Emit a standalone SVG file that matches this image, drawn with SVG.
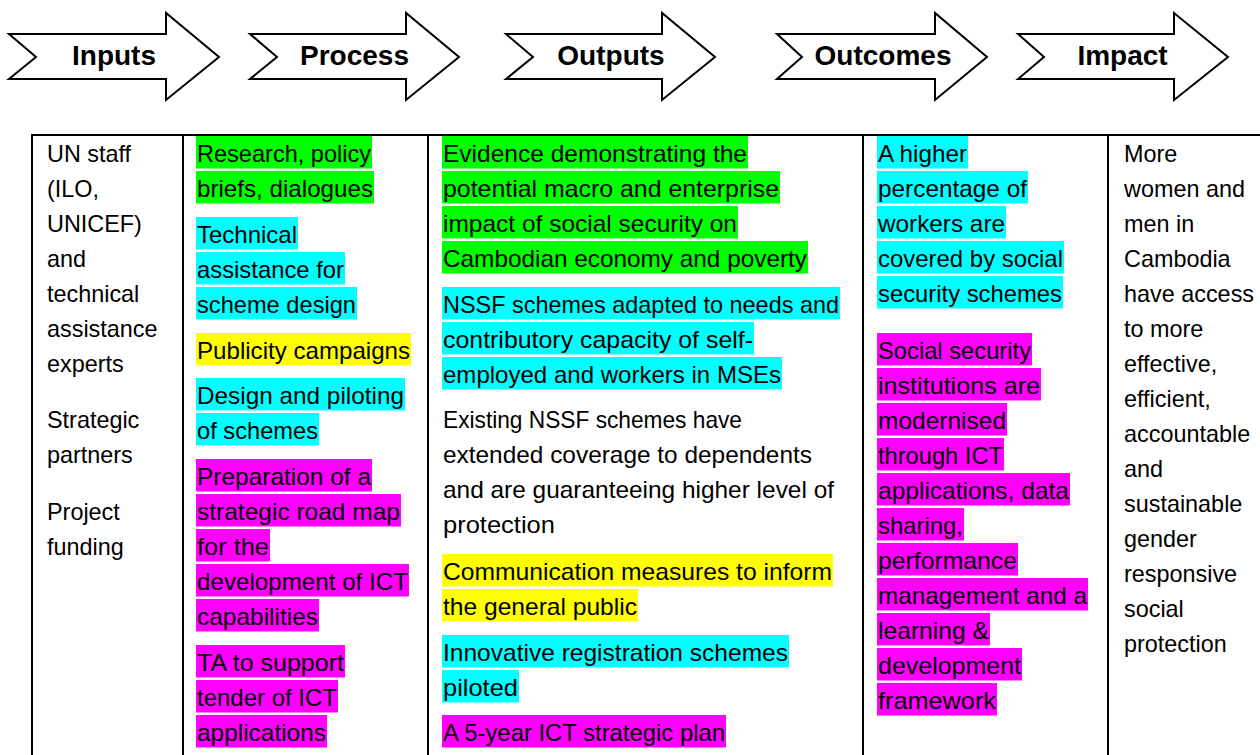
<svg xmlns="http://www.w3.org/2000/svg" width="1260" height="755" viewBox="0 0 1260 755">
  <style>
    .arrow { fill: #ffffff; stroke: #000000; stroke-width: 2; stroke-linejoin: miter; }
    .head { font-family: "Liberation Sans", Arial, sans-serif; font-weight: bold; font-size: 28px; fill: #000000; text-anchor: middle; }
    .cell { font-family: "Liberation Sans", Arial, sans-serif; font-size: 23.4px; fill: #000000; }
    .rule { stroke: #000000; stroke-width: 2; fill: none; }
    .g { fill: #00ff00; }
    .c { fill: #00ffff; }
    .y { fill: #ffff00; }
    .m { fill: #ff00ff; }
  </style>
  <rect width="1260" height="755" fill="#ffffff"/>

  <!-- stage arrows -->
  <g id="stage-inputs">
    <path class="arrow" d="M9,34 L166,34 L166,13 L219,57 L166,100 L166,79 L9,79 L36,57 Z"/>
    <text class="head" x="114" y="65">Inputs</text>
  </g>
  <g id="stage-process">
    <path class="arrow" d="M250,34 L406,34 L406,13 L459,57 L406,100 L406,79 L250,79 L277,57 Z"/>
    <text class="head" x="354.5" y="65">Process</text>
  </g>
  <g id="stage-outputs">
    <path class="arrow" d="M506,34 L662,34 L662,13 L715,57 L662,100 L662,79 L506,79 L533,57 Z"/>
    <text class="head" x="611" y="65">Outputs</text>
  </g>
  <g id="stage-outcomes">
    <path class="arrow" d="M777,34 L935,34 L935,13 L987,57 L935,100 L935,79 L777,79 L802,57 Z"/>
    <text class="head" x="883" y="65">Outcomes</text>
  </g>
  <g id="stage-impact">
    <path class="arrow" d="M1018,34 L1174,34 L1174,13 L1228,57 L1174,100 L1174,79 L1018,79 L1044,57 Z"/>
    <text class="head" x="1122.5" y="65">Impact</text>
  </g>

  <!-- table rules -->
  <g id="connectors">
    <line class="rule" x1="31" y1="135" x2="1260" y2="135"/>
    <line class="rule" x1="32" y1="134" x2="32" y2="755"/>
    <line class="rule" x1="183" y1="134" x2="183" y2="755"/>
    <line class="rule" x1="428" y1="134" x2="428" y2="755"/>
    <line class="rule" x1="863" y1="134" x2="863" y2="755"/>
    <line class="rule" x1="1108" y1="134" x2="1108" y2="755"/>
  </g>

  <!-- Inputs column -->
  <g id="col-inputs" class="cell">
    <text x="47" y="162">UN staff</text>
    <text x="47" y="197">(ILO,</text>
    <text x="47" y="232">UNICEF)</text>
    <text x="47" y="267">and</text>
    <text x="47" y="302">technical</text>
    <text x="47" y="337">assistance</text>
    <text x="47" y="372">experts</text>
    <text x="47" y="428">Strategic</text>
    <text x="47" y="463">partners</text>
    <text x="47" y="520">Project</text>
    <text x="47" y="555">funding</text>
  </g>

  <!-- Process column -->
  <g id="col-process">
    <rect class="g" x="196" y="136" width="176" height="32.5"/>
    <rect class="g" x="196" y="171" width="178" height="32.5"/>
    <rect class="c" x="196" y="217" width="102" height="32.5"/>
    <rect class="c" x="196" y="252" width="149" height="32.5"/>
    <rect class="c" x="196" y="287" width="161" height="32.5"/>
    <rect class="y" x="196" y="333" width="215" height="32.5"/>
    <rect class="c" x="196" y="378" width="209" height="32.5"/>
    <rect class="c" x="196" y="413" width="123" height="32.5"/>
    <rect class="m" x="196" y="459" width="176" height="32.5"/>
    <rect class="m" x="196" y="494" width="205" height="32.5"/>
    <rect class="m" x="196" y="529" width="74" height="32.5"/>
    <rect class="m" x="196" y="564" width="213" height="32.5"/>
    <rect class="m" x="196" y="599" width="123" height="32.5"/>
    <rect class="m" x="196" y="645" width="149" height="32.5"/>
    <rect class="m" x="196" y="680" width="142" height="32.5"/>
    <rect class="m" x="196" y="715" width="131" height="32.5"/>
    <g class="cell">
      <text x="197" y="162" textLength="174" lengthAdjust="spacingAndGlyphs">Research, policy</text>
      <text x="197" y="197" textLength="176" lengthAdjust="spacingAndGlyphs">briefs, dialogues</text>
      <text x="197" y="243" textLength="100" lengthAdjust="spacingAndGlyphs">Technical</text>
      <text x="197" y="278" textLength="147" lengthAdjust="spacingAndGlyphs">assistance for</text>
      <text x="197" y="313" textLength="159" lengthAdjust="spacingAndGlyphs">scheme design</text>
      <text x="197" y="359" textLength="213" lengthAdjust="spacingAndGlyphs">Publicity campaigns</text>
      <text x="197" y="404" textLength="207" lengthAdjust="spacingAndGlyphs">Design and piloting</text>
      <text x="197" y="439" textLength="121" lengthAdjust="spacingAndGlyphs">of schemes</text>
      <text x="197" y="485" textLength="174" lengthAdjust="spacingAndGlyphs">Preparation of a</text>
      <text x="197" y="520" textLength="203" lengthAdjust="spacingAndGlyphs">strategic road map</text>
      <text x="197" y="555" textLength="72" lengthAdjust="spacingAndGlyphs">for the</text>
      <text x="197" y="590" textLength="211" lengthAdjust="spacingAndGlyphs">development of ICT</text>
      <text x="197" y="625" textLength="121" lengthAdjust="spacingAndGlyphs">capabilities</text>
      <text x="197" y="671" textLength="147" lengthAdjust="spacingAndGlyphs">TA to support</text>
      <text x="197" y="706" textLength="140" lengthAdjust="spacingAndGlyphs">tender of ICT</text>
      <text x="197" y="741" textLength="129" lengthAdjust="spacingAndGlyphs">applications</text>
    </g>
  </g>

  <!-- Outputs column -->
  <g id="col-outputs">
    <rect class="g" x="442" y="136" width="306" height="32.5"/>
    <rect class="g" x="442" y="171" width="338" height="32.5"/>
    <rect class="g" x="442" y="206" width="296" height="32.5"/>
    <rect class="g" x="442" y="241" width="366" height="32.5"/>
    <rect class="c" x="442" y="287" width="398" height="32.5"/>
    <rect class="c" x="442" y="322" width="312" height="32.5"/>
    <rect class="c" x="442" y="357" width="340" height="32.5"/>
    <rect class="y" x="442" y="554" width="391" height="32.5"/>
    <rect class="y" x="442" y="589" width="196" height="32.5"/>
    <rect class="c" x="442" y="635" width="347" height="32.5"/>
    <rect class="c" x="442" y="670" width="77" height="32.5"/>
    <rect class="m" x="442" y="715" width="284" height="32.5"/>
    <g class="cell">
      <text x="443" y="162" textLength="304" lengthAdjust="spacingAndGlyphs">Evidence demonstrating the</text>
      <text x="443" y="197" textLength="336" lengthAdjust="spacingAndGlyphs">potential macro and enterprise</text>
      <text x="443" y="232" textLength="294" lengthAdjust="spacingAndGlyphs">impact of social security on</text>
      <text x="443" y="267" textLength="364" lengthAdjust="spacingAndGlyphs">Cambodian economy and poverty</text>
      <text x="443" y="313" textLength="396" lengthAdjust="spacingAndGlyphs">NSSF schemes adapted to needs and</text>
      <text x="443" y="348" textLength="310" lengthAdjust="spacingAndGlyphs">contributory capacity of self-</text>
      <text x="443" y="383" textLength="338" lengthAdjust="spacingAndGlyphs">employed and workers in MSEs</text>
      <text x="443" y="428" textLength="299" lengthAdjust="spacingAndGlyphs">Existing NSSF schemes have</text>
      <text x="443" y="463" textLength="369" lengthAdjust="spacingAndGlyphs">extended coverage to dependents</text>
      <text x="443" y="498" textLength="391" lengthAdjust="spacingAndGlyphs">and are guaranteeing higher level of</text>
      <text x="443" y="533" textLength="112" lengthAdjust="spacingAndGlyphs">protection</text>
      <text x="443" y="580" textLength="389" lengthAdjust="spacingAndGlyphs">Communication measures to inform</text>
      <text x="443" y="615" textLength="194" lengthAdjust="spacingAndGlyphs">the general public</text>
      <text x="443" y="661" textLength="345" lengthAdjust="spacingAndGlyphs">Innovative registration schemes</text>
      <text x="443" y="696" textLength="75" lengthAdjust="spacingAndGlyphs">piloted</text>
      <text x="443" y="741" textLength="282" lengthAdjust="spacingAndGlyphs">A 5-year ICT strategic plan</text>
    </g>
  </g>

  <!-- Outcomes column -->
  <g id="col-outcomes">
    <rect class="c" x="877" y="136" width="91" height="32.5"/>
    <rect class="c" x="877" y="171" width="151" height="32.5"/>
    <rect class="c" x="877" y="206" width="129" height="32.5"/>
    <rect class="c" x="877" y="241" width="187" height="32.5"/>
    <rect class="c" x="877" y="276" width="186" height="32.5"/>
    <rect class="m" x="877" y="333" width="155" height="32.5"/>
    <rect class="m" x="877" y="368" width="164" height="32.5"/>
    <rect class="m" x="877" y="403" width="130" height="32.5"/>
    <rect class="m" x="877" y="438" width="127" height="32.5"/>
    <rect class="m" x="877" y="473" width="193" height="32.5"/>
    <rect class="m" x="877" y="508" width="87" height="32.5"/>
    <rect class="m" x="877" y="543" width="141" height="32.5"/>
    <rect class="m" x="877" y="578" width="211" height="32.5"/>
    <rect class="m" x="877" y="613" width="113" height="32.5"/>
    <rect class="m" x="877" y="648" width="145" height="32.5"/>
    <rect class="m" x="877" y="683" width="120" height="32.5"/>
    <g class="cell">
      <text x="878" y="162" textLength="89" lengthAdjust="spacingAndGlyphs">A higher</text>
      <text x="878" y="197" textLength="149" lengthAdjust="spacingAndGlyphs">percentage of</text>
      <text x="878" y="232" textLength="127" lengthAdjust="spacingAndGlyphs">workers are</text>
      <text x="878" y="267" textLength="185" lengthAdjust="spacingAndGlyphs">covered by social</text>
      <text x="878" y="302" textLength="184" lengthAdjust="spacingAndGlyphs">security schemes</text>
      <text x="878" y="359" textLength="153" lengthAdjust="spacingAndGlyphs">Social security</text>
      <text x="878" y="394" textLength="162" lengthAdjust="spacingAndGlyphs">institutions are</text>
      <text x="878" y="429" textLength="128" lengthAdjust="spacingAndGlyphs">modernised</text>
      <text x="878" y="464" textLength="125" lengthAdjust="spacingAndGlyphs">through ICT</text>
      <text x="878" y="499" textLength="191" lengthAdjust="spacingAndGlyphs">applications, data</text>
      <text x="878" y="534" textLength="85" lengthAdjust="spacingAndGlyphs">sharing,</text>
      <text x="878" y="569" textLength="139" lengthAdjust="spacingAndGlyphs">performance</text>
      <text x="878" y="604" textLength="209" lengthAdjust="spacingAndGlyphs">management and a</text>
      <text x="878" y="639" textLength="111" lengthAdjust="spacingAndGlyphs">learning &amp;</text>
      <text x="878" y="674" textLength="143" lengthAdjust="spacingAndGlyphs">development</text>
      <text x="878" y="709" textLength="118" lengthAdjust="spacingAndGlyphs">framework</text>
    </g>
  </g>

  <!-- Impact column -->
  <g id="col-impact" class="cell">
    <text x="1124" y="162">More</text>
    <text x="1124" y="197">women and</text>
    <text x="1124" y="232">men in</text>
    <text x="1124" y="267">Cambodia</text>
    <text x="1124" y="302">have access</text>
    <text x="1124" y="337">to more</text>
    <text x="1124" y="372">effective,</text>
    <text x="1124" y="407">efficient,</text>
    <text x="1124" y="442">accountable</text>
    <text x="1124" y="477">and</text>
    <text x="1124" y="512">sustainable</text>
    <text x="1124" y="547">gender</text>
    <text x="1124" y="582">responsive</text>
    <text x="1124" y="617">social</text>
    <text x="1124" y="652">protection</text>
  </g>
</svg>
